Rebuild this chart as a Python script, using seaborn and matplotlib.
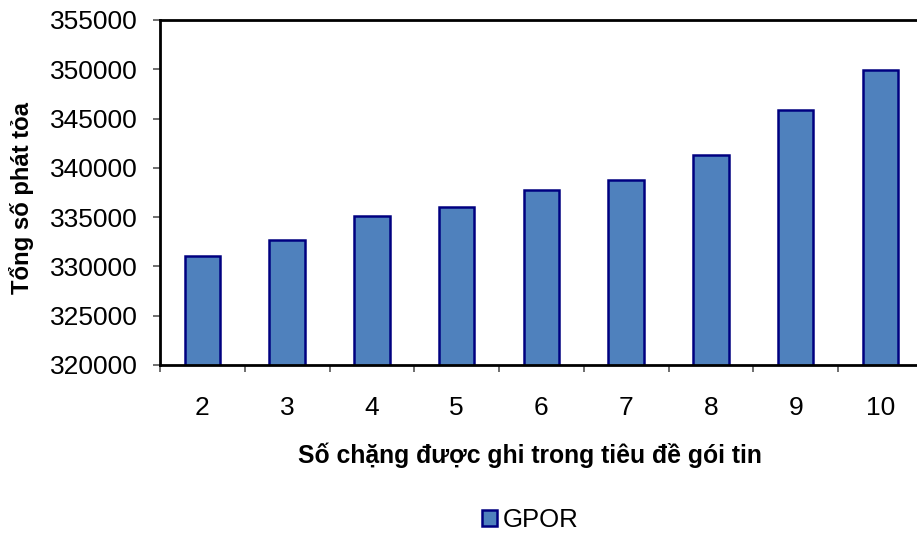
import matplotlib
matplotlib.use("Agg")
import matplotlib.pyplot as plt
from matplotlib.patches import Patch
from matplotlib.ticker import FixedLocator, NullFormatter
import seaborn as sns
import pandas as pd

# Number of hops recorded in the packet header vs. total broadcasts
hops = ["2", "3", "4", "5", "6", "7", "8", "9", "10"]
gpor = [331100, 332700, 335100, 336000, 337800, 338800, 341300, 345900, 349900]
y_ticks = [320000, 325000, 330000, 335000, 340000, 345000, 350000, 355000]
series_name = "GPOR"

bar_face = "#4F81BD"
bar_edge = "#000080"

sns.set_theme(style="white")
plt.rcParams["font.family"] = ["Liberation Sans", "DejaVu Sans"]
plt.rcParams["text.color"] = "black"
plt.rcParams["axes.labelcolor"] = "black"

df = pd.DataFrame({"hops": hops, "value": gpor})

fig = plt.figure(figsize=(9.17, 5.33), dpi=100)
ax = fig.add_axes([160 / 917, 1 - 365 / 533, (922.75 - 160) / 917, (365 - 20) / 533])

sns.barplot(data=df, x="hops", y="value", color=bar_face, width=0.42,
            edgecolor=bar_edge, linewidth=1.8, saturation=1, ax=ax)
for p in ax.patches:
    p.set_facecolor(bar_face)

ax.set_ylim(y_ticks[0], y_ticks[-1])
ax.set_xlim(-0.5, len(hops) - 0.5)
ax.set_yticks(y_ticks)
ax.set_yticklabels([str(v) for v in y_ticks])

# Category labels centred, tick marks on category boundaries
ax.tick_params(axis="x", which="major", length=0, pad=22, labelsize=19, labelcolor="black")
ax.xaxis.set_minor_locator(FixedLocator([i - 0.5 for i in range(len(hops) + 1)]))
ax.xaxis.set_minor_formatter(NullFormatter())
ax.tick_params(axis="x", which="minor", bottom=True, length=5, width=1.2, color="#555555")
ax.tick_params(axis="y", which="major", left=True, length=5, width=1.2, pad=11,
               labelsize=19, labelcolor="black", color="#555555")

for side in ["left", "bottom", "top"]:
    ax.spines[side].set_visible(True)
    ax.spines[side].set_color("black")
    ax.spines[side].set_linewidth(2)
ax.spines["right"].set_visible(False)

ax.set_xlabel("")
ax.set_ylabel("")
fig.text(22 / 917, 1 - 198 / 533, "Tổng số phát tỏa", rotation=90, ha="center", va="center",
         fontsize=17.2, fontweight="bold", color="black")
fig.text(530 / 917, 1 - 455 / 533, "Số chặng được ghi trong tiêu đề gói tin", ha="center",
         va="center", fontsize=17.8, fontweight="bold", color="black")

handle = Patch(facecolor=bar_face, edgecolor=bar_edge, linewidth=1.8)
fig.legend([handle], [series_name], loc="center", bbox_to_anchor=(530 / 917, 1 - 520 / 533),
           frameon=False, fontsize=18.5, handlelength=0.6, handleheight=0.6,
           handletextpad=0.2, borderpad=0, labelcolor="black")

fig.savefig("out.png", dpi=100)
